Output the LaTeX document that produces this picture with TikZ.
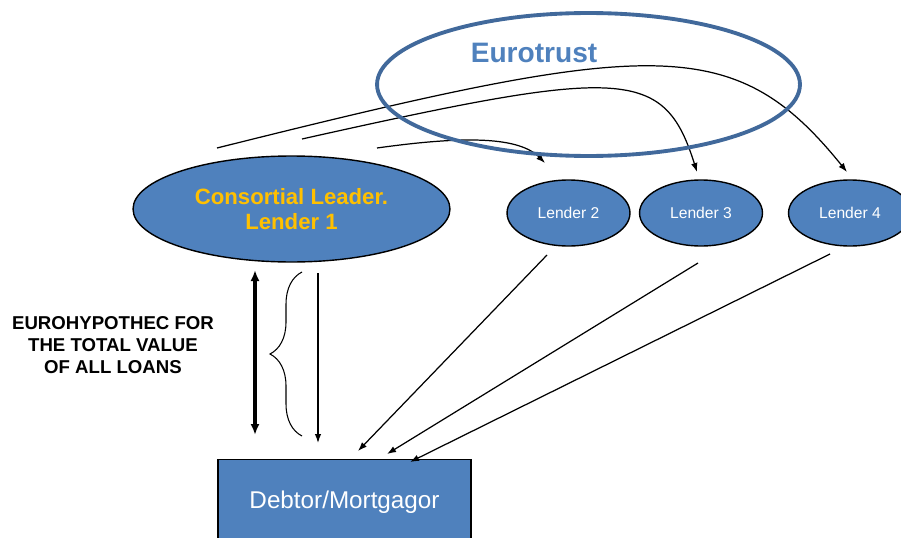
\documentclass[tikz,border=0pt]{standalone}
\usepackage{fontspec}
\setmainfont{Liberation Sans}
\usepackage{tikz}
\usetikzlibrary{arrows.meta}
\usetikzlibrary{shapes.geometric,decorations.pathreplacing}
\definecolor{bankblue}{HTML}{4F81BD}
\definecolor{trustline}{HTML}{41699B}
\definecolor{leadergold}{HTML}{FFC000}

\begin{document}
\begin{tikzpicture}[
x=0.02cm, y=-0.02cm,
Lenders/.style={ellipse,draw=black,line width=0.8pt,fill=bankblue,text=white,inner sep=0pt,
  minimum width=2.46cm,minimum height=1.32cm,font=\fontsize{8.9}{10}\selectfont},
Flows/.style={-{Latex[length=1.8mm, width=1.3mm]},line width=0.7pt},
MyBrace/.style={decorate,decoration={brace,amplitude=0.64cm},line width=0.6pt}
]
\path[use as bounding box] (0,0) rectangle (901,537);
\clip (0,0) rectangle (901,537);

% lenders of the consortium
\node[Lenders,minimum width=6.34cm,minimum height=2.12cm,text=leadergold,align=center,
  font=\bfseries\fontsize{12.6}{14.7}\selectfont] (L1) at (291.5,209) {Consortial Leader.\\Lender 1};
\node[Lenders] (L2) at (568.5,213) {Lender 2};
\node[Lenders] (L3) at (701,213) {Lender 3};
\node[Lenders] (L4) at (850,213) {Lender 4};

\node[rectangle,draw=black,line width=0.8pt,fill=bankblue,text=white,anchor=north,
  minimum width=5.06cm,minimum height=1.7cm,font=\fontsize{13.8}{15}\selectfont] (D) at (344.5,459) {Debtor/Mortgagor};

\node[align=center,font=\bfseries\fontsize{10.6}{12.3}\selectfont] (EH) at (113,345)
  {EUROHYPOTHEC FOR\\THE TOTAL VALUE\\OF ALL LOANS};

% free ends of the connectors
\coordinate (A1) at (217,148);  \coordinate (B1) at (847,172);
\coordinate (A2) at (302,139);  \coordinate (B2) at (697,172);
\coordinate (A3) at (377,148);  \coordinate (B3) at (545,163);

\coordinate (C2) at (547,255);  \coordinate (E2) at (358,451);
\coordinate (C3) at (698,263);  \coordinate (E3) at (387,454);
\coordinate (C4) at (830,254);  \coordinate (E4) at (410,462);

\coordinate (H) at (255,270);   \coordinate (I) at (255,435);
\coordinate (J) at (318,273);   \coordinate (K) at (318,443);
\coordinate (M) at (302,436);   \coordinate (N) at (302,272);

\draw[Flows] (A1) .. controls (653,39) and (734,32) .. (B1);
\draw[Flows] (A2) .. controls (624,67) and (664,67) .. (B2);
\draw[Flows] (A3) .. controls (456,137) and (517,135) .. (B3);

\node[ellipse,draw=trustline,line width=2.2pt,minimum width=8.46cm,minimum height=2.86cm] (ET) at (588.5,84.5) {};
\node[anchor=base,text=bankblue,font=\bfseries\fontsize{16}{18}\selectfont] (ETname) at (534,63) {Eurotrust};

\draw[Flows] (C2)--(E2);
\draw[Flows] (C3)--(E3);
\draw[Flows] (C4)--(E4);

\draw[{Latex[length=2.2mm, width=1.8mm]}-{Latex[length=2.2mm, width=1.8mm]},line width=2pt] (H)--(I);
\draw[Flows] (J)--(K);
\draw[MyBrace] (M)--(N);

\end{tikzpicture}
\end{document}
